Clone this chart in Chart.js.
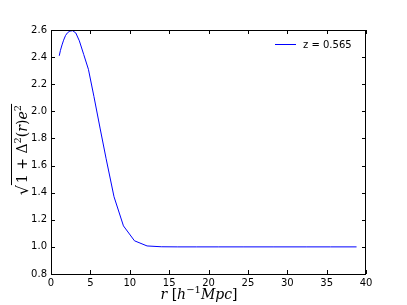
<!DOCTYPE html>
<html>
<head>
<meta charset="utf-8">
<script src="https://cdn.jsdelivr.net/npm/chart.js@4/dist/chart.umd.min.js"></script>
<style>
  html, body { margin: 0; padding: 0; background: #fff; }
  canvas { display: block; }
</style>
</head>
<body>
<canvas id="canvas" width="407" height="305"></canvas>
<script>
// separation r [h^-1 Mpc] and the value of sqrt(1 + Delta^2(r) e^2)
var rValues = [1.05, 1.2, 1.4, 1.6, 1.85, 2.1, 2.4, 2.75, 3.15, 3.6, 4.15, 4.75, 5.45, 6.25, 7.0,
    8.0, 9.2, 10.6, 12.2, 14.0, 16.1, 18.5, 21.3, 24.5, 28.2, 32.4, 35.5, 38.8];
var ratioValues = [2.41, 2.45, 2.49, 2.525, 2.56, 2.58, 2.592, 2.595, 2.578, 2.52, 2.42, 2.31, 2.11, 1.87, 1.65,
    1.37, 1.155, 1.045, 1.007, 1.001, 1.0, 1.0, 1.0, 1.0, 1.0, 1.0, 1.0, 1.0];
var seriesLabel = 'z = 0.565';
var xTicks = [0, 5, 10, 15, 20, 25, 30, 35, 40];
var yTicks = [0.8, 1.0, 1.2, 1.4, 1.6, 1.8, 2.0, 2.2, 2.4, 2.6];

var points = rValues.map(function (r, i) {
    return {x: r, y: ratioValues[i]}
});

var sansFont = '"DejaVu Sans", sans-serif';
var serifFont = '"DejaVu Serif", serif';

// matplotlib-ish frame, inward ticks, legend and axis titles
var decorations = {
    id: 'decorations',
    afterDraw: function (chart) {
        var ctx = chart.ctx,
            area = chart.chartArea,
            xs = chart.scales.x,
            ys = chart.scales.y;
        ctx.save();
        ctx.strokeStyle = '#000';
        ctx.lineWidth = 1;
        ctx.strokeRect(Math.round(area.left) + 0.5, Math.round(area.top) + 0.5,
            Math.round(area.right - area.left) - 1, Math.round(area.bottom - area.top));

        ctx.beginPath();
        xTicks.forEach(function (v) {
            var px = Math.round(xs.getPixelForValue(v)) + 0.5;
            ctx.moveTo(px, area.bottom);
            ctx.lineTo(px, area.bottom - 4);
            ctx.moveTo(px, area.top);
            ctx.lineTo(px, area.top + 4);
        });
        yTicks.forEach(function (v) {
            var py = Math.round(ys.getPixelForValue(v)) + 0.5;
            ctx.moveTo(area.left, py);
            ctx.lineTo(area.left + 4, py);
            ctx.moveTo(area.right, py);
            ctx.lineTo(area.right - 4, py);
        });
        ctx.stroke();

        // legend
        ctx.strokeStyle = '#0000ff';
        ctx.beginPath();
        ctx.moveTo(275, 44.5);
        ctx.lineTo(296, 44.5);
        ctx.stroke();
        ctx.fillStyle = '#000';
        ctx.font = '10px ' + sansFont;
        ctx.textBaseline = 'middle';
        ctx.textAlign = 'left';
        ctx.fillText(seriesLabel, 303, 45);

        // x title: r [h^-1 Mpc]
        ctx.textBaseline = 'alphabetic';
        var parts = [
            ['r', 'italic 14px ' + serifFont, 0],
            [' [', '14px ' + serifFont, 0],
            ['h', 'italic 14px ' + serifFont, 0],
            ['\u22121', '10px ' + serifFont, -6],
            ['Mpc', 'italic 14px ' + serifFont, 0],
            [']', '14px ' + serifFont, 0]
        ];
        drawParts(ctx, parts, 199, 299);

        // y title: sqrt(1 + Delta^2(r) e^2), rotated
        ctx.save();
        ctx.translate(27, 150);
        ctx.rotate(-Math.PI / 2);
        var inner = [
            ['1 + \u0394', '14px ' + serifFont, 0],
            ['2', '10px ' + serifFont, -6],
            ['(', '14px ' + serifFont, 0],
            ['r', 'italic 14px ' + serifFont, 0],
            [')', '14px ' + serifFont, 0],
            ['e', 'italic 14px ' + serifFont, 0],
            ['2', '10px ' + serifFont, -6]
        ];
        var w = partsWidth(ctx, inner);
        var left = -w / 2 + 6;
        ctx.font = '16px ' + serifFont;
        ctx.fillText('\u221A', left - 12, 1);
        drawParts(ctx, inner, left + w / 2, 0);
        ctx.beginPath();
        ctx.lineWidth = 1;
        ctx.strokeStyle = '#000';
        ctx.moveTo(left - 2, -15.5);
        ctx.lineTo(left + w + 1, -15.5);
        ctx.stroke();
        ctx.restore();

        ctx.restore();
    }
};

function partsWidth(ctx, parts) {
    var w = 0;
    parts.forEach(function (p) {
        ctx.font = p[1];
        w += ctx.measureText(p[0]).width;
    });
    return w;
}

function drawParts(ctx, parts, cx, y) {
    var x = cx - partsWidth(ctx, parts) / 2;
    ctx.textAlign = 'left';
    parts.forEach(function (p) {
        ctx.font = p[1];
        ctx.fillText(p[0], x, y + p[2]);
        x += ctx.measureText(p[0]).width;
    });
}

var ctx = document.getElementById('canvas').getContext('2d');
new Chart(ctx, {
    type: 'line',
    data: {
        datasets: [{
            label: seriesLabel,
            data: points,
            borderColor: '#0000ff',
            borderWidth: 1,
            pointRadius: 0,
            tension: 0,
            fill: false
        }]
    },
    options: {
        responsive: false,
        devicePixelRatio: 1,
        animation: false,
        layout: {padding: {top: 30, right: 41, left: 0, bottom: 0}},
        plugins: {legend: {display: false}, tooltip: {enabled: false}},
        scales: {
            x: {
                type: 'linear',
                min: xTicks[0],
                max: xTicks[xTicks.length - 1],
                afterFit: function (scale) { scale.height = 31; },
                grid: {display: false, drawTicks: false},
                border: {display: false},
                ticks: {
                    stepSize: 5,
                    padding: 3,
                    maxRotation: 0,
                    color: '#000',
                    font: {family: sansFont, size: 10},
                    callback: function (v) { return String(Math.round(v)); }
                }
            },
            y: {
                type: 'linear',
                min: yTicks[0],
                max: yTicks[yTicks.length - 1],
                afterFit: function (scale) { scale.width = 51; },
                grid: {display: false, drawTicks: false},
                border: {display: false},
                ticks: {
                    stepSize: 0.2,
                    padding: 4,
                    color: '#000',
                    font: {family: sansFont, size: 10},
                    callback: function (v) { return Number(v).toFixed(1); }
                }
            }
        }
    },
    plugins: [decorations]
});
</script>
</body>
</html>
